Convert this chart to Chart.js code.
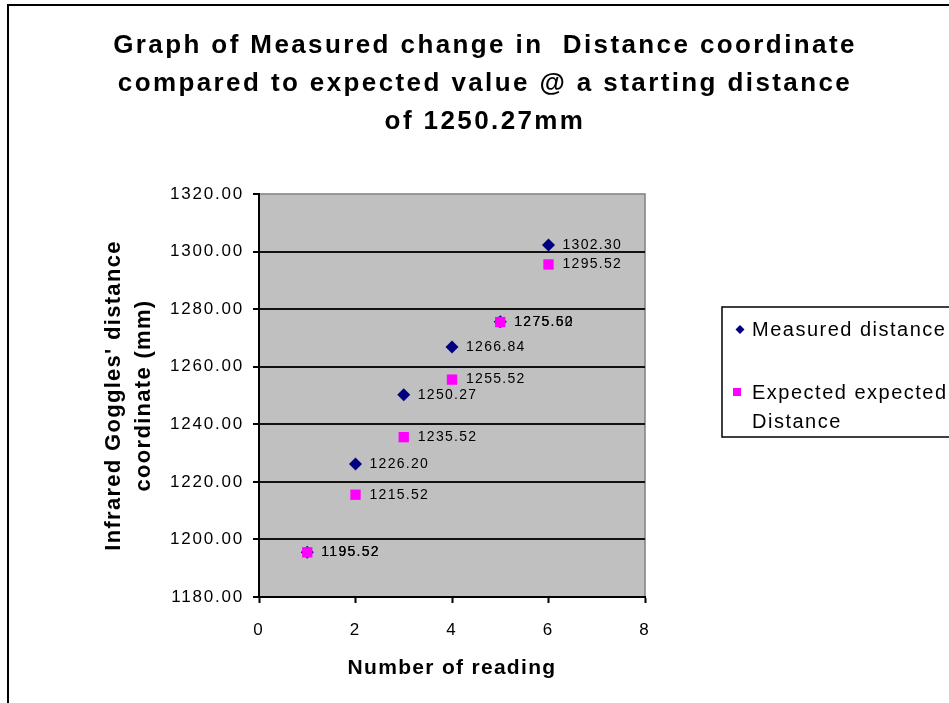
<!DOCTYPE html>
<html><head><meta charset="utf-8">
<script src="https://cdn.jsdelivr.net/npm/chart.js@4"></script>
<style>html,body{margin:0;padding:0;background:#fff}#wrap{width:949px;height:703px;position:relative;overflow:hidden}</style>
</head><body><div id="wrap"><canvas id="c" width="949" height="703"></canvas></div>
<script>
const readings = [1, 2, 3, 4, 5, 6];
const measured = [1195.52, 1226.20, 1250.27, 1266.84, 1275.60, 1302.30];
const expected = [1195.52, 1215.52, 1235.52, 1255.52, 1275.52, 1295.52];
const titleLines = ["Graph of Measured change in  Distance coordinate", "compared to expected value @ a starting distance", "of 1250.27mm"];
const yTitleLines = ["Infrared Goggles' distance", "coordinate (mm)"];
const xTitle = "Number of reading";
const seriesNames = ["Measured distance", "Expected expected", "Distance"];
const yMin = 1180, yMax = 1320, yStep = 20;
const xMin = 0, xMax = 8, xStep = 2;

const FONT = '"Liberation Sans", Arial, sans-serif';
const NAVY = '#000080', MAGENTA = '#FF00FF';

function txt(ctx, s, x, y, font, align, spacing) {
  ctx.save();
  ctx.font = font;
  ctx.letterSpacing = (spacing || 0) + 'px';
  ctx.fillStyle = '#000';
  ctx.textAlign = align || 'left';
  ctx.textBaseline = 'middle';
  ctx.fillText(s, x, y);
  ctx.restore();
}

const decor = {
  id: 'decor',
  beforeDraw(chart) {
    const ctx = chart.ctx, a = chart.chartArea;
    ctx.save();
    ctx.fillStyle = '#fff';
    ctx.fillRect(0, 0, chart.width, chart.height);
    ctx.strokeStyle = '#000';
    ctx.lineWidth = 2;
    ctx.beginPath();
    ctx.moveTo(8, chart.height); ctx.lineTo(8, 5); ctx.lineTo(chart.width, 5);
    ctx.stroke();
    ctx.fillStyle = '#C0C0C0';
    ctx.fillRect(a.left, a.top, a.right - a.left, a.bottom - a.top);
    ctx.strokeStyle = '#808080';
    ctx.lineWidth = 1.5;
    ctx.beginPath();
    ctx.moveTo(a.left, a.top); ctx.lineTo(a.right, a.top); ctx.lineTo(a.right, a.bottom);
    ctx.stroke();
    ctx.restore();
    ctx.letterSpacing = '1.8px';
  },
  afterDatasetsDraw(chart) {
    const ctx = chart.ctx;
    [0, 1].forEach(di => {
      const meta = chart.getDatasetMeta(di);
      const vals = chart.data.datasets[di].data;
      meta.data.forEach((el, i) => {
        txt(ctx, vals[i].y.toFixed(2), el.x + 14, el.y, '14px ' + FONT, 'left', 1.3);
      });
    });
  },
  afterDraw(chart) {
    const ctx = chart.ctx, a = chart.chartArea;
    ctx.letterSpacing = '0px';
    const tf = 'bold 26px ' + FONT;
    txt(ctx, titleLines[0], 485, 46, tf, 'center', 2.4);
    txt(ctx, titleLines[1], 485, 84, tf, 'center', 2.4);
    txt(ctx, titleLines[2], 485, 122, tf, 'center', 2.4);
    ctx.save();
    ctx.translate(129, (a.top + a.bottom) / 2);
    ctx.rotate(-Math.PI / 2);
    txt(ctx, yTitleLines[0], 0, -15, 'bold 22px ' + FONT, 'center', 1.3);
    txt(ctx, yTitleLines[1], 0, 15, 'bold 22px ' + FONT, 'center', 1.3);
    ctx.restore();
    txt(ctx, xTitle, (a.left + a.right) / 2, 668, 'bold 21px ' + FONT, 'center', 1.3);
    ctx.save();
    ctx.strokeStyle = '#000';
    ctx.lineWidth = 1.5;
    ctx.strokeRect(722, 307, 300, 130);
    ctx.fillStyle = NAVY;
    ctx.beginPath();
    ctx.moveTo(740, 325); ctx.lineTo(744.5, 329.5); ctx.lineTo(740, 334); ctx.lineTo(735.5, 329.5);
    ctx.closePath(); ctx.fill();
    ctx.fillStyle = MAGENTA;
    ctx.fillRect(733, 388, 8, 8);
    ctx.restore();
    const lf = '20px ' + FONT;
    txt(ctx, seriesNames[0], 752, 330, lf, 'left', 1.5);
    txt(ctx, seriesNames[1], 752, 393, lf, 'left', 1.5);
    txt(ctx, seriesNames[2], 752, 422, lf, 'left', 1.5);
  }
};

new Chart(document.getElementById('c'), {
  type: 'scatter',
  data: {
    datasets: [
      {
        label: seriesNames[0],
        data: readings.map((x, i) => ({x, y: measured[i]})),
        pointStyle: 'rectRot', pointRadius: 6.5, pointHoverRadius: 6.5,
        backgroundColor: NAVY, borderColor: NAVY, borderWidth: 0,
        order: 1
      },
      {
        label: seriesNames[1] + ' ' + seriesNames[2],
        data: readings.map((x, i) => ({x, y: expected[i]})),
        pointStyle: 'rect', pointRadius: 7.3, pointHoverRadius: 7.3,
        backgroundColor: MAGENTA, borderColor: MAGENTA, borderWidth: 0,
        order: 0
      }
    ]
  },
  options: {
    responsive: false,
    animation: false,
    devicePixelRatio: 1,
    layout: { padding: { left: 0, top: 194, right: 304, bottom: 0 } },
    plugins: { legend: { display: false }, title: { display: false }, tooltip: { enabled: false } },
    scales: {
      x: {
        type: 'linear', min: xMin, max: xMax,
        afterFit(s) { s.height = 106; },
        ticks: { stepSize: xStep, color: '#000', font: { family: FONT, size: 17 }, padding: 17 },
        grid: { drawOnChartArea: false, drawTicks: true, tickLength: 6, tickColor: '#000', tickWidth: 2 },
        border: { color: '#000', width: 2 }
      },
      y: {
        type: 'linear', min: yMin, max: yMax,
        afterFit(s) { s.width = 259; },
        ticks: { stepSize: yStep, color: '#000', font: { family: FONT, size: 17 }, padding: 9,
          callback: v => v.toFixed(2) },
        grid: { color: c => (c.tick && c.tick.value === yMax) ? 'rgba(0,0,0,0)' : '#111', lineWidth: 2,
          drawTicks: true, tickLength: 6, tickColor: '#000', tickWidth: 2 },
        border: { color: '#000', width: 2 }
      }
    }
  },
  plugins: [decor]
});
</script>
</body></html>
